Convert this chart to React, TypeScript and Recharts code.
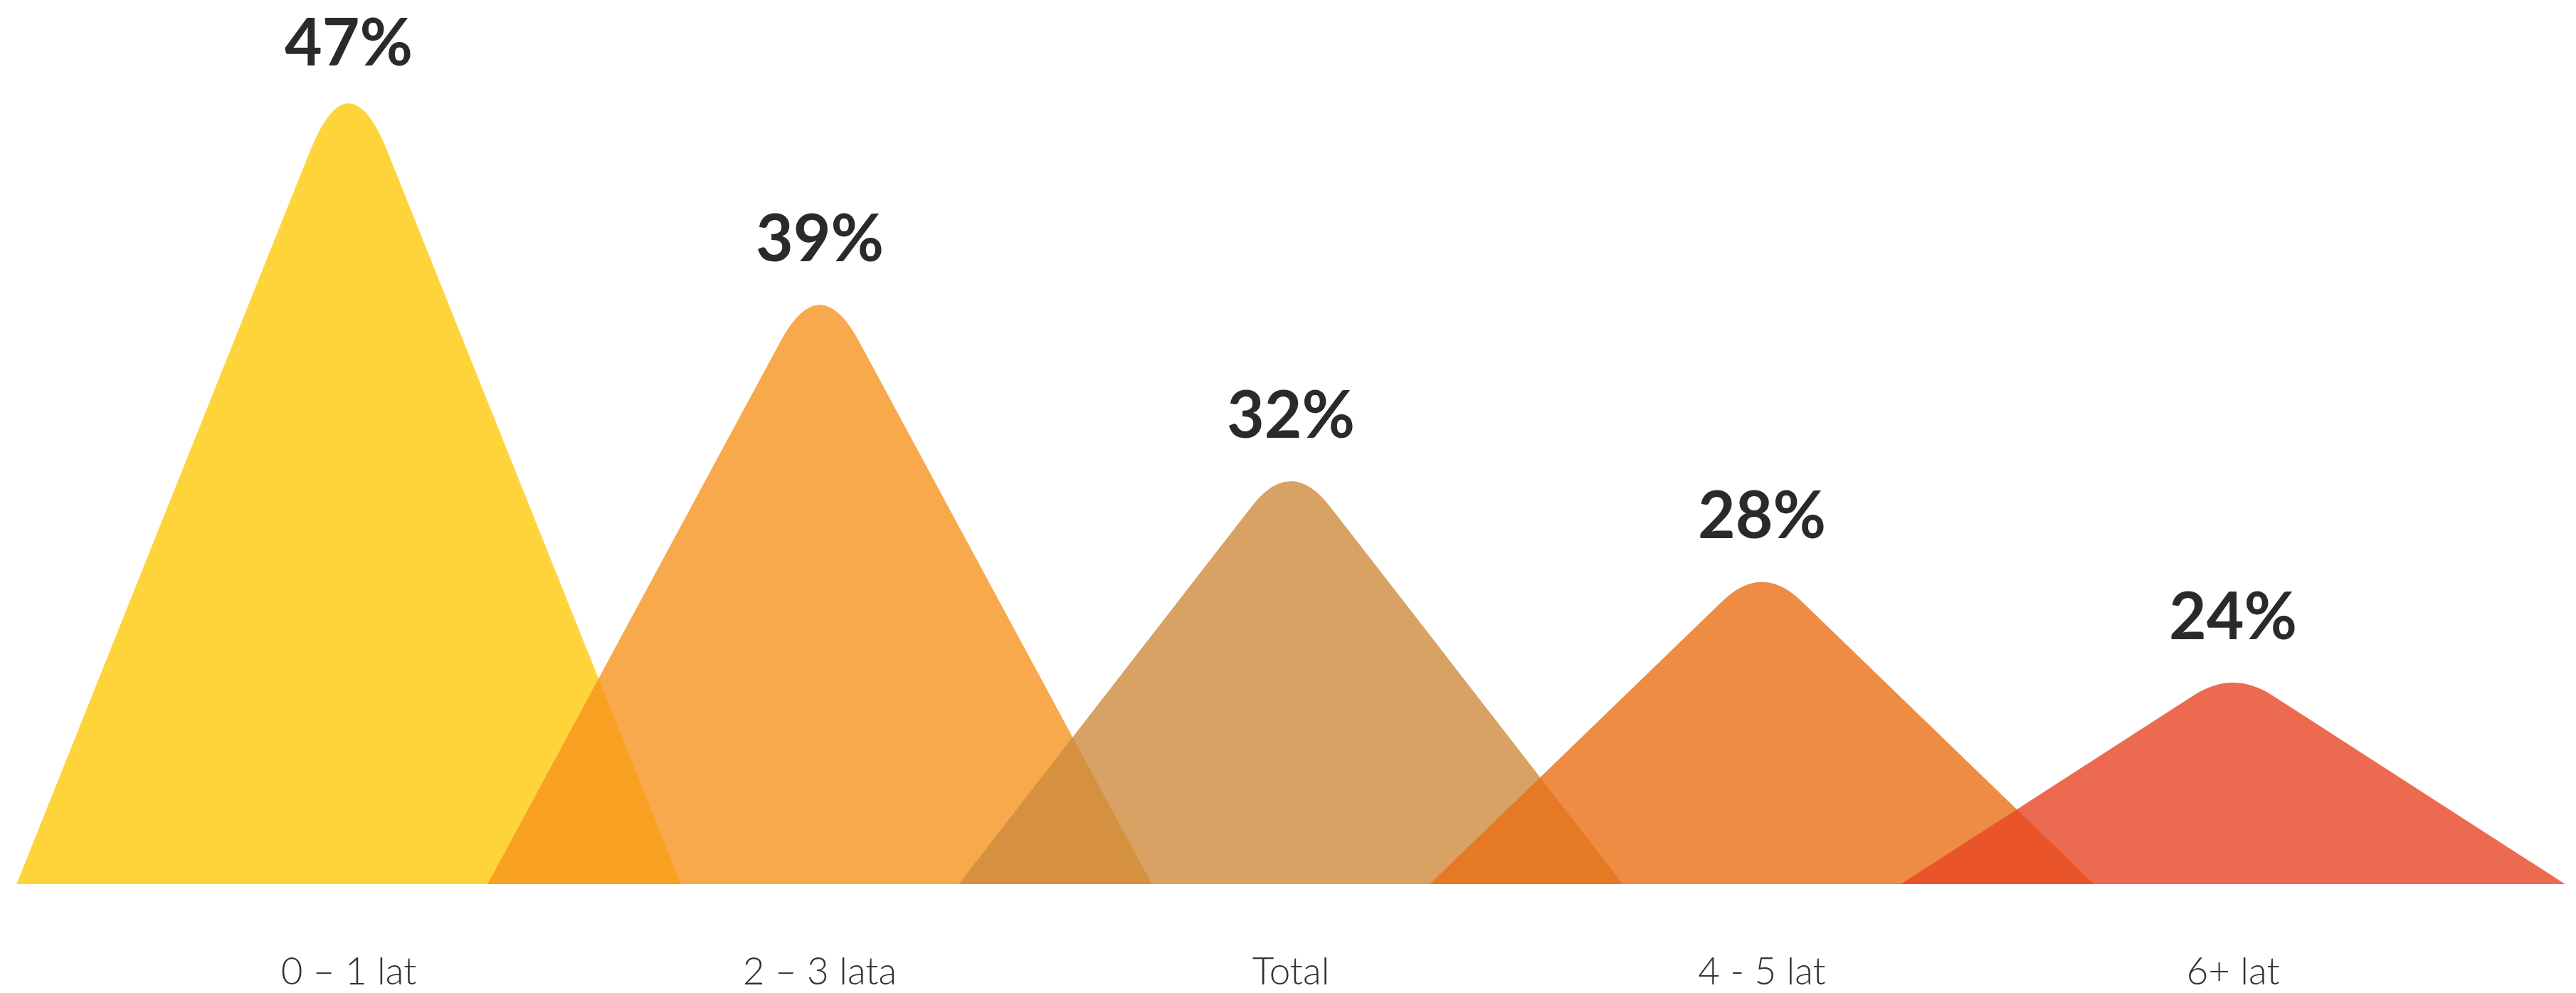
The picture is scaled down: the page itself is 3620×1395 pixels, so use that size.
import React from 'react';
import { BarChart, Bar, XAxis, YAxis, LabelList } from 'recharts';

const categories = ['0 – 1 lat', '2 – 3 lata', 'Total', '4 - 5 lat', '6+ lat'];
const values = [47, 39, 32, 28, 24];
const colors = ['#FFC909', '#F6941E', '#CD8B3D', '#EA6F14', '#E74624'];
const yDomain = [16, 48];

const data = categories.map((name, i) => ({ name, value: values[i] }));

const SPREAD = 0.705; // half base width relative to band width
const R = 55; // horizontal half-width of the rounded cap

const Peak = (props: any) => {
  const { x, y, width, height, index } = props;
  const cx = x + width / 2;
  const base = y + height;
  const half = width * SPREAD;
  const s = half / height;
  const ye = y + R / s;
  const d = `M${cx - half},${base} L${cx - R},${ye} Q${cx},${y} ${cx + R},${ye} L${cx + half},${base} Z`;
  return <path d={d} fill={colors[index]} fillOpacity={0.8} />;
};

const PeakLabel = (props: any) => {
  const vb = props.viewBox || {};
  const x = props.x ?? vb.x;
  const y = props.y ?? vb.y;
  const width = props.width ?? vb.width;
  const height = props.height ?? vb.height;
  const cx = x + width / 2;
  const half = width * SPREAD;
  const s = half / height;
  const top = y + R / (2 * s);
  return (
    <text
      x={cx}
      y={Math.max(top - 61, 92)}
      textAnchor="middle"
      fontFamily="Lato"
      fontWeight={700}
      fontSize={91}
      fill="#2a2a2a"
    >
      {props.value}%
    </text>
  );
};

const Tick = (props: any) => {
  const { x, y, payload } = props;
  return (
    <text
      x={x}
      y={y + 141}
      textAnchor="middle"
      fontFamily="Lato"
      fontWeight={300}
      fontSize={53}
      fill="#333333"
    >
      {payload.value}
    </text>
  );
};

export default function App() {
  return (
    <div style={{ position: 'absolute', left: 0, top: 0, width: 3620, height: 1395, background: '#ffffff' }}>
      <BarChart
        width={3620}
        height={1395}
        data={data}
        margin={{ top: 39, right: 151, bottom: 0, left: 159 }}
        barCategoryGap={0}
        barGap={0}
      >
        <XAxis
          dataKey="name"
          axisLine={false}
          tickLine={false}
          tickSize={0}
          tickMargin={0}
          height={153}
          interval={0}
          tick={<Tick />}
        />
        <YAxis hide domain={yDomain} allowDataOverflow />
        <Bar dataKey="value" isAnimationActive={false} shape={<Peak />}>
          <LabelList dataKey="value" content={<PeakLabel />} />
        </Bar>
      </BarChart>
    </div>
  );
}
